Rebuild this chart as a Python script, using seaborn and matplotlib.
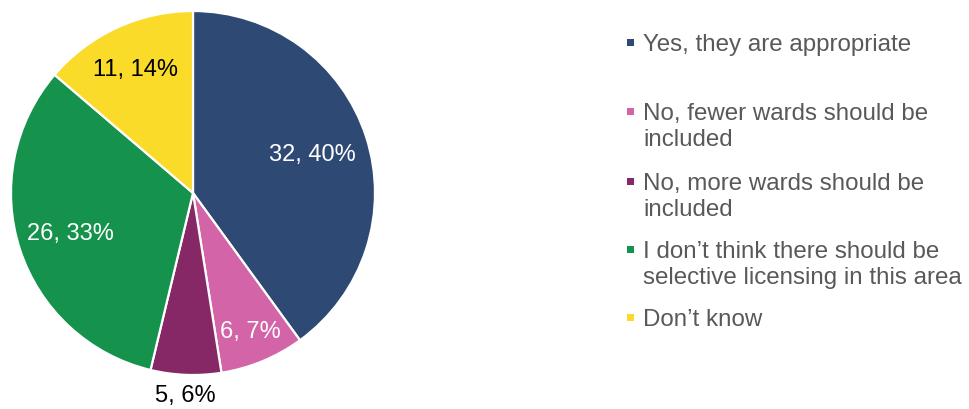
import numpy as np
import matplotlib
matplotlib.use("Agg")
import matplotlib.pyplot as plt
from matplotlib.patches import Rectangle
import seaborn as sns

# Survey responses
categories = [
    "Yes, they are appropriate",
    "No, fewer wards should be\nincluded",
    "No, more wards should be\nincluded",
    "I don\u2019t think there should be\nselective licensing in this area",
    "Don\u2019t know",
]
counts = [32, 6, 5, 26, 11]
percent_labels = ["40%", "7%", "6%", "33%", "14%"]

colors_hex = ["#2E4A74", "#D464A8", "#862865", "#15924B", "#FADB2A"]
label_colors = ["white", "white", "black", "white", "black"]
label_radius = [0.69, 0.82, 1.11, 0.71, 0.75]

sns.set_theme(style="white")
plt.rcParams["font.family"] = ["Liberation Sans", "DejaVu Sans"]

W, H = 969, 410
fig = plt.figure(figsize=(W / 100, H / 100), dpi=100)
fig.patch.set_facecolor("white")

# Pie placed in pixel terms: centre and radius
cx, cy, r = 193, 194, 182
ax = fig.add_axes([(cx - r) / W, (H - cy - r) / H, 2 * r / W, 2 * r / H])
palette = sns.color_palette(colors_hex)
wedges, _ = ax.pie(
    counts,
    colors=palette,
    startangle=90,
    counterclock=False,
    radius=1,
    wedgeprops=dict(edgecolor="white", linewidth=1.6),
)
ax.set_xlim(-1, 1)
ax.set_ylim(-1, 1)
ax.axis("off")

for w, n, p, c, rr in zip(wedges, counts, percent_labels, label_colors, label_radius):
    ang = np.deg2rad((w.theta1 + w.theta2) / 2)
    ax.text(rr * np.cos(ang), rr * np.sin(ang), f"{n}, {p}",
            ha="center", va="center", color=c, fontsize=17, clip_on=False)

# Legend drawn entry by entry (first-line baselines, pixels from top)
baselines = [51.5, 120.5, 190.5, 258.5, 326.5]
line_step = 26
text_x = 643
for lab, col, yb in zip(categories, palette, baselines):
    extra = lab.count("\n") * line_step
    fig.text(text_x / W, 1 - (yb + extra) / H, lab, ha="left", va="baseline",
             fontsize=17.4, color="#595959", linespacing=1.26)
    s = 7
    fig.patches.append(Rectangle((627 / W, 1 - (yb - 8.5 + s / 2) / H), s / W, s / H,
                                 transform=fig.transFigure, facecolor=col,
                                 edgecolor="none"))

fig.savefig("out.png", dpi=100)
